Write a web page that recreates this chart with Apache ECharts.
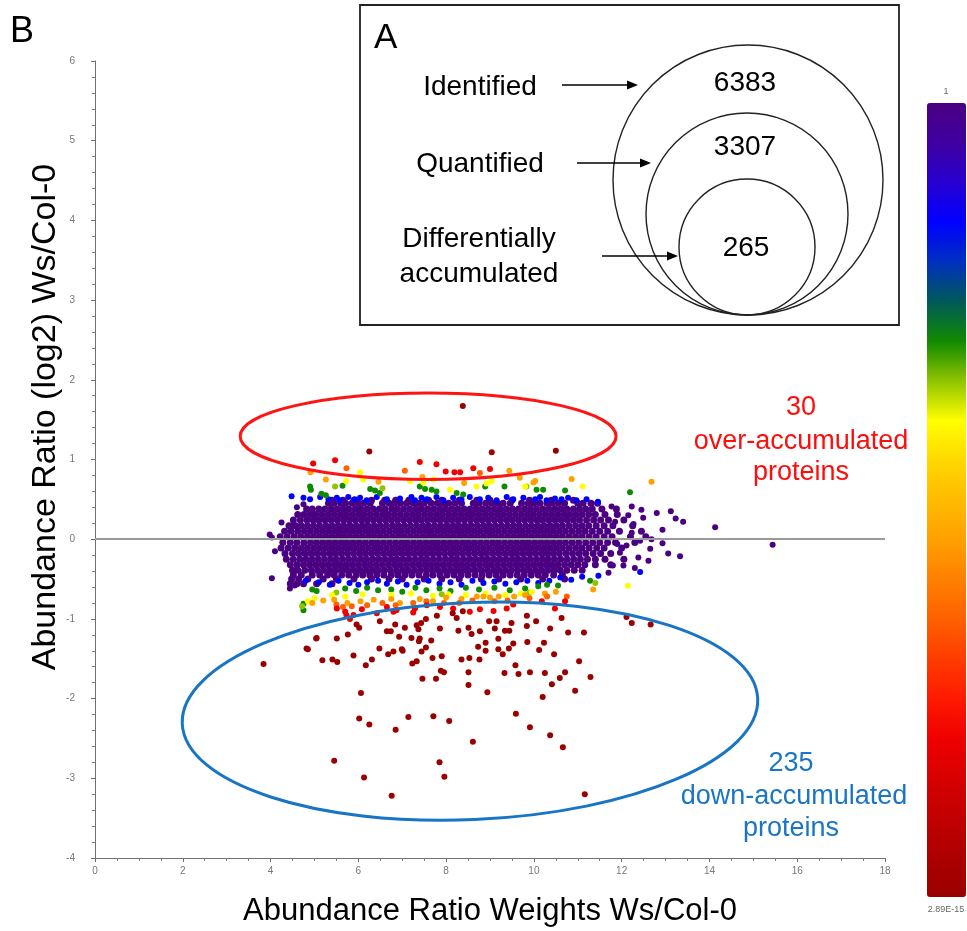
<!DOCTYPE html>
<html>
<head>
<meta charset="utf-8">
<script src="https://cdn.jsdelivr.net/npm/echarts@6/dist/echarts.min.js"></script>
<style>html,body{margin:0;padding:0;background:#fff}#c{width:967px;height:931px}</style>
</head>
<body>
<div id="c"></div>
<script>
// ---------- data ----------
// x = Abundance Ratio Weights, y = log2 Abundance Ratio, colour level = position on the p-value bar (0 = 2.89E-15, 1 = 1)
const xTicks = [0, 2, 4, 6, 8, 10, 12, 14, 16, 18];
const yTicks = [-4, -3, -2, -1, 0, 1, 2, 3, 4, 5, 6];
const colorbarLabels = ['1', '2.89E-15'];
const vennLabels = ['Identified', 'Quantified', 'Differentially', 'accumulated'];
const vennCounts = [6383, 3307, 265];
const overCount = 30;
const downCount = 235;

// dense purple cloud, one row per y level
const coreRowY = [0.49, 0.45, 0.38, 0.31, 0.24, 0.17, 0.10, 0.03, -0.04, -0.11, -0.18, -0.25, -0.32, -0.39, -0.45, -0.50, -0.56];
const coreRowX = [
  [5.4,5.65,5.9,6.3,6.6,6.85,7.15,7.6,7.9,8.3,8.7,9.0,9.5,9.9,10.4,10.9],
  [5.32,5.45,5.6,5.71,5.86,6.0,6.12,6.27,6.55,6.7,6.82,6.96,7.1,7.25,7.38,7.5,7.66,7.8,7.93,8.06,8.2,8.35,8.62,8.75,8.9,9.04,9.17,9.3,9.46,9.72,9.87,10.0,10.14,10.3,10.42,10.56,10.7,11.0,11.12,11.3,11.45],
  [4.82,4.95,5.1,5.24,5.38,5.52,5.65,5.78,5.93,6.06,6.2,6.34,6.48,6.61,6.76,6.89,7.03,7.17,7.31,7.44,7.58,7.72,7.86,7.99,8.13,8.27,8.41,8.55,8.68,8.82,8.96,9.1,9.23,9.37,9.51,9.65,9.79,9.92,10.06,10.2,10.34,10.48,10.62,10.75,10.9,11.04,11.18,11.33,11.55,11.88],
  [4.62,4.76,4.9,5.03,5.17,5.31,5.45,5.59,5.72,5.86,6.0,6.13,6.27,6.41,6.55,6.68,6.82,6.96,7.1,7.24,7.37,7.51,7.65,7.79,7.92,8.06,8.2,8.34,8.48,8.61,8.75,8.89,9.03,9.17,9.3,9.44,9.58,9.72,9.86,9.99,10.13,10.27,10.41,10.55,10.69,10.82,10.96,11.1,11.25,11.4,11.62,11.9],
  [4.52,4.68,4.83,4.97,5.1,5.24,5.38,5.52,5.66,5.79,5.93,6.07,6.2,6.34,6.48,6.62,6.75,6.89,7.03,7.17,7.31,7.44,7.58,7.72,7.86,8.0,8.13,8.27,8.41,8.55,8.69,8.82,8.96,9.1,9.24,9.38,9.51,9.65,9.79,9.93,10.07,10.2,10.34,10.48,10.62,10.76,10.9,11.04,11.2,11.36,11.52,11.7,12.05],
  [4.42,4.57,4.7,4.84,4.98,5.12,5.26,5.4,5.54,5.67,5.81,5.95,6.09,6.22,6.36,6.5,6.64,6.78,6.91,7.05,7.19,7.33,7.47,7.6,7.74,7.88,8.02,8.16,8.29,8.43,8.57,8.71,8.85,8.98,9.12,9.26,9.4,9.54,9.67,9.81,9.95,10.09,10.23,10.37,10.51,10.65,10.8,10.95,11.1,11.25,11.42,11.6,11.8,12.25],
  [4.32,4.47,4.62,4.77,4.91,5.05,5.19,5.33,5.47,5.6,5.74,5.88,6.02,6.16,6.29,6.43,6.57,6.71,6.85,6.98,7.12,7.26,7.4,7.54,7.67,7.81,7.95,8.09,8.23,8.36,8.5,8.64,8.78,8.92,9.05,9.19,9.33,9.47,9.61,9.74,9.88,10.02,10.16,10.3,10.44,10.58,10.72,10.87,11.02,11.17,11.33,11.5,11.68,11.95,12.45],
  [4.22,4.38,4.54,4.69,4.84,4.98,5.12,5.26,5.4,5.54,5.67,5.81,5.95,6.09,6.23,6.36,6.5,6.64,6.78,6.92,7.05,7.19,7.33,7.47,7.61,7.74,7.88,8.02,8.16,8.3,8.43,8.57,8.71,8.85,8.99,9.12,9.26,9.4,9.54,9.68,9.81,9.95,10.09,10.23,10.37,10.51,10.65,10.8,10.95,11.1,11.26,11.42,11.6,11.78,12.2,12.55],
  [4.28,4.45,4.6,4.76,4.91,5.05,5.19,5.33,5.47,5.61,5.74,5.88,6.02,6.16,6.3,6.43,6.57,6.71,6.85,6.99,7.12,7.26,7.4,7.54,7.68,7.81,7.95,8.09,8.23,8.37,8.5,8.64,8.78,8.92,9.06,9.19,9.33,9.47,9.61,9.75,9.88,10.02,10.16,10.3,10.44,10.58,10.72,10.87,11.02,11.18,11.34,11.5,11.68,11.86,12.3],
  [4.24,4.4,4.55,4.7,4.84,4.98,5.12,5.26,5.4,5.54,5.68,5.81,5.95,6.09,6.23,6.37,6.5,6.64,6.78,6.92,7.06,7.19,7.33,7.47,7.61,7.75,7.88,8.02,8.16,8.3,8.44,8.57,8.71,8.85,8.99,9.13,9.26,9.4,9.54,9.68,9.82,9.95,10.09,10.23,10.37,10.51,10.65,10.8,10.95,11.1,11.26,11.43,11.6,12.0],
  [4.33,4.5,4.64,4.78,4.92,5.06,5.2,5.34,5.47,5.61,5.75,5.89,6.03,6.16,6.3,6.44,6.58,6.72,6.85,6.99,7.13,7.27,7.41,7.54,7.68,7.82,7.96,8.1,8.23,8.37,8.51,8.65,8.79,8.92,9.06,9.2,9.34,9.48,9.61,9.75,9.89,10.03,10.17,10.3,10.44,10.58,10.73,10.88,11.03,11.18,11.35,11.52,11.75],
  [4.36,4.52,4.67,4.81,4.95,5.09,5.23,5.37,5.5,5.64,5.78,5.92,6.06,6.19,6.33,6.47,6.61,6.75,6.88,7.02,7.16,7.3,7.44,7.57,7.71,7.85,7.99,8.13,8.26,8.4,8.54,8.68,8.82,8.95,9.09,9.23,9.37,9.51,9.64,9.78,9.92,10.06,10.2,10.33,10.47,10.61,10.76,10.91,11.06,11.22,11.4,11.62,12.05],
  [4.45,4.6,4.75,4.89,5.03,5.17,5.31,5.45,5.58,5.72,5.86,6.0,6.14,6.27,6.41,6.55,6.69,6.83,6.96,7.1,7.24,7.38,7.52,7.65,7.79,7.93,8.07,8.21,8.34,8.48,8.62,8.76,8.9,9.03,9.17,9.31,9.45,9.59,9.72,9.86,10.0,10.14,10.28,10.41,10.55,10.7,10.85,11.0,11.16,11.4,11.75],
  [4.5,4.62,4.78,4.93,5.07,5.21,5.35,5.49,5.63,5.76,5.9,6.04,6.18,6.32,6.45,6.59,6.73,6.87,7.01,7.14,7.28,7.42,7.56,7.7,7.83,7.97,8.11,8.25,8.39,8.52,8.66,8.8,8.94,9.08,9.21,9.35,9.49,9.63,9.77,9.9,10.04,10.18,10.32,10.46,10.6,10.75,10.92,11.1],
  [4.52,4.7,4.95,5.12,5.3,5.45,5.62,5.78,5.95,6.1,6.26,6.42,6.58,6.75,6.9,7.06,7.22,7.38,7.55,7.7,7.86,8.02,8.18,8.34,8.5,8.66,8.82,8.98,9.14,9.3,9.46,9.62,9.78,9.94,10.1,10.26,10.45,10.65],
  [4.48,4.64,4.85,5.2,5.5,5.9,6.3,6.7,7.0,7.5,7.9,8.3,8.8,9.2,9.7,10.2,10.7],
  [4.45,4.6,4.75,5.05,5.4]
];
// scattered purple points at the edges of the cloud
const purpleEdge = [[4.03,0.02],[4.25,0.21],[4.5,0.17],[3.98,0.06],[4.1,-0.15],[4.03,-0.49],[4.44,-0.62],[4.55,-0.58],[4.6,0.4],[4.75,0.44],
  [12.80,0.33],[13.12,0.35],[13.23,0.26],[13.40,0.22],[13.33,-0.215],[13.06,-0.18],[12.93,-0.05],[12.61,-0.27],[12.49,0.27],[12.27,0.19],
  [12.42,-0.02],[12.68,0.0],[12.04,-0.33],[11.8,-0.33],[12.23,0.08],[12.93,0.12],[12.45,0.37],[12.23,0.41],[11.77,0.41],[11.96,-0.17],
  [12.38,-0.23],[12.65,-0.12],[12.11,-0.08],[14.13,0.15],[15.44,-0.07],[11.85,0.22],[11.9,-0.06],[12.15,0.3],[11.7,-0.42],[12.3,-0.36]];
const bluePts = [[4.48,0.54],[4.75,0.52],[4.90,0.5],[5.13,0.53],[5.32,0.5],[5.51,0.52],[5.58,0.49],[5.77,0.53],[5.92,0.5],[6.04,0.52],[6.19,0.49],[6.42,0.53],[6.65,0.5],[6.95,0.51],[7.21,0.53],[7.29,0.49],[7.44,0.52],[7.56,0.5],[7.78,0.53],[7.94,0.49],[8.16,0.52],[8.35,0.5],[8.54,0.53],[8.77,0.5],[8.96,0.52],[9.15,0.49],[9.38,0.53],[9.53,0.5],[9.76,0.52],[10.03,0.5],[10.14,0.53],[10.29,0.49],[10.48,0.51],[10.63,0.5],[10.78,0.52],[10.97,0.49],[11.20,0.5],[11.46,0.47],
  [4.8,-0.52],[5.1,-0.54],[5.35,-0.57],[5.55,-0.52],[5.8,-0.55],[6.0,-0.57],[6.2,-0.54],[6.45,-0.52],[6.65,-0.56],[6.9,-0.53],[7.1,-0.57],[7.35,-0.54],[7.6,-0.52],[7.85,-0.56],[8.1,-0.54],[8.35,-0.57],[8.6,-0.52],[8.85,-0.55],[9.1,-0.53],[9.35,-0.56],[9.6,-0.54],[9.85,-0.52],[10.1,-0.55],[10.35,-0.52],[10.6,-0.48],[10.85,-0.51],[11.1,-0.47],[11.47,-0.46],[12.42,-0.41]];
const greenPts = [[4.90,0.66],[4.92,0.62],[5.16,0.57],[5.26,0.55],[5.64,0.67],[6.27,0.63],[6.38,0.61],[6.49,0.58],[7.40,0.66],[7.52,0.63],[7.67,0.62],[7.78,0.60],[8.24,0.58],[8.39,0.56],[8.89,0.66],[9.33,0.66],[10.06,0.62],[10.21,0.62],[10.71,0.61],[12.19,0.59],
  [4.95,-0.63],[5.05,-0.65],[5.7,-0.62],[5.95,-0.65],[6.2,-0.61],[6.45,-0.64],[6.75,-0.63],[7.0,-0.66],[7.3,-0.61],[7.55,-0.64],[7.85,-0.62],[8.1,-0.65],[8.45,-0.61],[8.75,-0.63],[9.1,-0.61],[9.45,-0.64],[9.8,-0.62],[10.1,-0.59],[10.3,-0.57],[10.55,-0.58],[11.28,-0.52],[4.75,-0.81],[4.75,-0.89]];
const limePts = [[5.47,0.66],[9.83,0.66],[6.55,0.64],[4.72,-0.84],[5.5,-0.67],[7.9,-0.69],[9.9,-0.67],[11.4,-0.55]];
const yellowPts = [[6.11,0.75],[5.72,0.73],[7.18,0.73],[7.48,0.71],[7.71,0.75],[8.69,0.66],[8.92,0.70],[9.04,0.73],[9.80,0.66],[11.11,0.66],[8.09,0.62],[6.04,0.84],
  [5.4,-0.7],[5.7,-0.72],[6.1,-0.69],[6.75,-0.7],[7.2,-0.68],[7.7,-0.71],[8.05,-0.69],[8.45,-0.7],[8.9,-0.68],[9.35,-0.7],[9.7,-0.68],[9.95,-0.66],[10.25,-0.69],[12.14,-0.585],[4.85,-0.78],[5.0,-0.74]];
const orangePts = [[4.91,0.84],[5.26,0.75],[6.46,0.72],[7.46,0.78],[8.41,0.705],[9.44,0.86],[9.68,0.77],[10.03,0.73],[10.86,0.755],[12.68,0.72],[9.99,0.71],
  [4.95,-0.8],[5.2,-0.77],[5.45,-0.76],[5.75,-0.8],[6.05,-0.78],[6.35,-0.76],[6.75,-0.75],[6.95,-0.8],[7.4,-0.75],[7.7,-0.78],[8.0,-0.73],[8.35,-0.75],[8.7,-0.72],[8.85,-0.72],[9.0,-0.73],[9.2,-0.72],[9.55,-0.72],[9.8,-0.7],[10.25,-0.68],[10.5,-0.66],[11.35,-0.63]];
const orangeRedPts = [[5.73,0.89],[7.06,0.86],[8.77,0.83],
  [5.5,-0.82],[5.65,-0.85],[5.85,-0.84],[6.2,-0.83],[6.55,-0.8],[6.85,-0.83],[7.25,-0.8],[7.55,-0.78],[7.95,-0.8],[8.3,-0.8],[8.6,-0.77],[9.1,-0.78],[9.4,-0.77],[9.9,-0.74],[10.3,-0.72],[10.75,-0.72]];
const redPts = [[4.97,0.95],[5.47,0.99],[7.40,0.97],[7.78,0.94],[7.99,0.85],[8.19,0.84],[8.32,0.84],[8.62,0.89],[9.0,0.88],
  [5.70,-0.91],[5.89,-0.95],[6.08,-0.88],[6.65,-0.85],[6.80,-0.91],[7.29,-0.87],[7.56,-0.83],[7.86,-0.85],[8.16,-0.87],[8.54,-0.91],[8.77,-0.88],[9.08,-0.90],[9.38,-0.87],[9.53,-0.82],[10.18,-0.78],[10.48,-0.87],[10.71,-0.78],[7.25,-0.92],[6.87,-0.89],[6.42,-0.93],[5.73,-0.955],[5.81,-1.0],[5.51,-0.87]];
const darkRedPts = [[8.38,1.67],[6.25,1.10],[9.04,1.09],[10.50,1.11],
  [3.84,-1.565],[4.85,-1.38],[5.05,-1.24],[5.18,-1.52],[5.41,-1.51],[5.52,-1.54],[5.51,-1.245],[5.76,-1.195],[5.89,-1.46],[6.02,-1.11],[6.06,-1.93],[6.02,-2.25],[6.25,-2.325],[6.17,-1.58],[6.31,-1.51],[6.48,-1.37],[6.49,-1.03],[6.68,-1.445],[6.80,-1.41],[6.65,-1.155],[6.74,-1.155],[6.84,-1.07],[6.93,-1.225],[7.01,-1.40],[6.99,-1.38],[7.06,-1.11],[6.85,-2.39],[7.23,-1.56],[7.33,-1.53],[7.21,-1.24],[7.38,-1.28],[7.40,-1.245],[7.37,-1.13],[7.44,-1.41],[7.54,-1.36],[7.66,-1.27],[7.46,-1.75],[7.77,-1.75],[7.69,-1.49],[7.90,-1.47],[7.88,-1.65],[7.95,-1.67],[7.14,-2.23],[7.71,-2.22],[8.07,-2.28],[7.85,-2.80],[7.96,-2.98],[5.45,-2.78],[6.13,-2.99],[6.76,-3.22],
  [8.28,-1.15],[8.35,-1.51],[8.53,-1.49],[8.76,-1.51],[8.51,-1.67],[8.51,-1.83],[8.51,-1.11],[8.58,-1.19],[8.77,-1.155],[8.73,-1.35],[8.90,-1.30],[8.90,-1.40],[8.94,-1.92],[8.61,-2.54],[8.98,-1.03],[9.15,-1.03],[9.11,-1.12],[9.19,-1.25],[9.19,-1.38],[9.29,-1.445],[9.34,-1.15],[9.44,-1.15],[9.49,-1.05],[9.43,-1.37],[9.53,-1.31],[9.58,-1.58],[9.33,-1.68],[9.65,-1.69],[9.59,-2.19],[9.84,-0.96],[9.84,-1.09],[9.85,-1.29],[9.91,-1.67],[9.91,-2.36],[10.05,-1.03],[10.12,-1.39],[10.23,-1.30],[10.20,-1.98],[10.25,-1.68],[10.37,-1.12],[10.37,-2.46],[10.46,-1.445],[10.41,-1.82],[10.59,-1.74],[10.71,-1.67],[10.66,-2.61],[10.78,-1.17],[10.63,-0.99],[10.94,-1.90],[11.03,-1.53],[11.14,-1.17],[11.29,-1.73],[11.16,-3.20],[12.11,-0.975],[12.23,-1.05],[12.66,-1.07],
  [8.24,-0.99],[8.38,-0.905],[8.15,-0.93],[7.43,-1.05],[7.54,-1.00],[7.79,-0.96],[7.86,-1.12],[7.33,-1.08],[5.96,-1.07],[4.82,-1.37],[5.04,-1.245]];
// colour-bar position of each point group
const groupLevels = [1.0, 1.0, 0.85, 0.7, 0.65, 0.6, 0.45, 0.35, 0.2, 0.0];
const colorStops = ['#990000','#ad0000','#c20000','#d80000','#f00000','#ff1a00','#ff3c00','#ff6000','#ff8000','#ffa000','#ffbb00','#ffd800','#ffff00','#90c400','#108a00','#005a5a','#0030c0','#0000ff','#2800d0','#4000a0','#4b0082'];
// annotation ellipses in data units: [cx, cy, rx, ry, rotation deg]
const overEllipse = [7.59, 1.292, 4.283, 0.543, 0];
const downEllipse = [8.544, -2.158, 6.562, 1.361, 2.5];

// ---------- build ----------
const pts = [];
coreRowY.forEach((y, i) => coreRowX[i].forEach(x => pts.push([x, y, groupLevels[0]])));
const coreCount = pts.length;
const groups = [purpleEdge, null, bluePts, greenPts, limePts, yellowPts, orangePts, orangeRedPts, redPts, darkRedPts];
groups.forEach((g, i) => { if (g) g.forEach(p => pts.push([p[0], p[1], groupLevels[i]])); });

const FONT = '"Liberation Sans", Arial, Helvetica, sans-serif';
const chart = echarts.init(document.getElementById('c'));
const option = {
  animation: false,
  backgroundColor: '#fff',
  grid: { left: 95, top: 61, right: 82, bottom: 73, containLabel: false },
  xAxis: {
    type: 'value', min: xTicks[0], max: xTicks[xTicks.length - 1], interval: 2,
    axisLine: { onZero: false, lineStyle: { color: '#707070', width: 1 } },
    axisTick: { length: 4, lineStyle: { color: '#707070' } },
    minorTick: { show: true, splitNumber: 4, length: 3, lineStyle: { color: '#808080' } },
    splitLine: { show: false },
    axisLabel: { color: '#777', fontSize: 10, margin: 8, fontFamily: FONT }
  },
  yAxis: {
    type: 'value', min: yTicks[0], max: yTicks[yTicks.length - 1], interval: 1,
    axisLine: { onZero: false, show: true, lineStyle: { color: '#707070', width: 1 } },
    axisTick: { show: true, length: 4, lineStyle: { color: '#707070' } },
    minorTick: { show: true, splitNumber: 5, length: 3, lineStyle: { color: '#808080' } },
    splitLine: { show: false },
    axisLabel: { color: '#777', fontSize: 10, margin: 20, fontFamily: FONT }
  },
  visualMap: {
    type: 'continuous', min: 0, max: 1, dimension: 2, orient: 'vertical',
    left: 927, top: 103, itemWidth: 39, itemHeight: 794, padding: 0,
    calculable: false, hoverLink: false, seriesIndex: 0,
    inRange: { color: colorStops }
  },
  series: [{
    type: 'scatter', data: pts, large: false,
    symbolSize: (v, p) => (p.dataIndex < coreCount ? 7 : 6),
    progressive: 0, progressiveThreshold: 100000,
    itemStyle: { opacity: 1 },
    silent: true,
    markLine: {
      silent: true, symbol: 'none', label: { show: false },
      lineStyle: { color: '#9a9a9a', width: 2, type: 'solid' },
      data: [{ yAxis: 0 }]
    }
  }]
};
chart.setOption(option);

function ellipseGraphic(e, color) {
  const c = chart.convertToPixel({ gridIndex: 0 }, [e[0], e[1]]);
  const q = chart.convertToPixel({ gridIndex: 0 }, [e[0] + e[2], e[1] + e[3]]);
  return {
    type: 'ellipse', x: c[0], y: c[1], rotation: e[4] * Math.PI / 180,
    shape: { cx: 0, cy: 0, rx: q[0] - c[0], ry: c[1] - q[1] },
    style: { fill: 'none', stroke: color, lineWidth: 3 }, z: 5, silent: true
  };
}
function txt(x, y, s, size, color, opts) {
  return Object.assign({
    type: 'text', x: x, y: y, silent: true, z: 20,
    style: { text: s, font: size + 'px ' + FONT, fill: color || '#000', align: 'center', verticalAlign: 'middle' }
  }, opts || {});
}
function arrow(x1, x2, y) {
  return [
    { type: 'line', shape: { x1: x1, y1: y, x2: x2 - 8, y2: y }, style: { stroke: '#000', lineWidth: 1.6 }, z: 20, silent: true },
    { type: 'polygon', shape: { points: [[x2, y], [x2 - 11, y - 4.5], [x2 - 11, y + 4.5]] }, style: { fill: '#000' }, z: 20, silent: true }
  ];
}
const RED = '#ff0d0d', BLUE = '#1a75c4';
const graphics = [
  ellipseGraphic(overEllipse, '#ff1414'),
  ellipseGraphic(downEllipse, '#1874c4'),
  txt(22, 32, 'B', 36, '#000'),
  txt(46, 417, 'Abundance Ratio (log2) Ws/Col-0', 34, '#000', { rotation: Math.PI / 2 }),
  txt(490, 911, 'Abundance Ratio Weights Ws/Col-0', 31, '#000'),
  txt(801, 407.5, String(overCount), 27, RED),
  txt(801, 441.5, 'over-accumulated', 27, RED),
  txt(801, 472.5, 'proteins', 27, RED),
  txt(791, 763.5, String(downCount), 27, BLUE),
  txt(794, 796.5, 'down-accumulated', 27, BLUE),
  txt(791, 828.5, 'proteins', 27, BLUE),
  txt(946, 92, colorbarLabels[0], 9, '#666'),
  txt(946, 910, colorbarLabels[1], 9, '#666'),
  // inset A
  { type: 'rect', shape: { x: 360, y: 5, width: 539, height: 320 }, style: { fill: '#fff', stroke: '#222', lineWidth: 1.8 }, z: 15, silent: true },
  { type: 'circle', shape: { cx: 748, cy: 180, r: 135 }, style: { fill: 'none', stroke: '#222', lineWidth: 1.4 }, z: 16, silent: true },
  { type: 'circle', shape: { cx: 747, cy: 214, r: 101 }, style: { fill: 'none', stroke: '#222', lineWidth: 1.4 }, z: 16, silent: true },
  { type: 'circle', shape: { cx: 747, cy: 247, r: 68 }, style: { fill: 'none', stroke: '#222', lineWidth: 1.4 }, z: 16, silent: true },
  txt(374, 38, 'A', 35, '#000', { style: { text: 'A', font: '35px ' + FONT, fill: '#000', align: 'left', verticalAlign: 'middle' } }),
  txt(480, 87, vennLabels[0], 28),
  txt(480, 164, vennLabels[1], 28),
  txt(479, 239, vennLabels[2], 28),
  txt(479, 274, vennLabels[3], 28),
  txt(745, 83, String(vennCounts[0]), 28),
  txt(745, 147, String(vennCounts[1]), 28),
  txt(746, 248, String(vennCounts[2]), 28)
].concat(arrow(562, 638, 85), arrow(577, 651, 163), arrow(602, 678, 256));
chart.setOption({ graphic: graphics });
</script>
</body>
</html>
